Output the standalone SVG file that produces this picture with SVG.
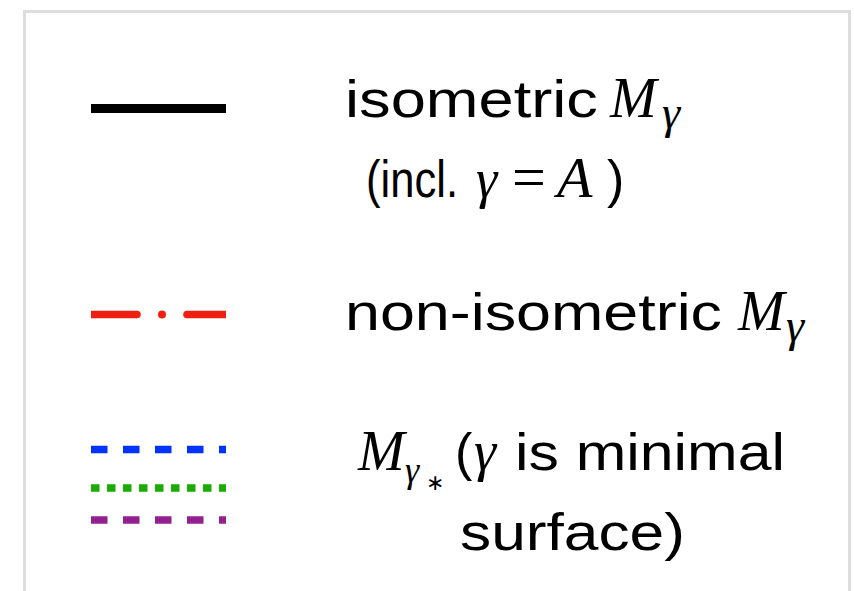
<svg xmlns="http://www.w3.org/2000/svg" width="854" height="591" viewBox="0 0 854 591">
<style>
.t{font-family:"Liberation Sans",Arial,sans-serif;font-size:52px;fill:#000}
.m{font-family:"Liberation Serif","Times New Roman",serif;font-style:italic;fill:#000}
.u{font-family:"Liberation Serif","Times New Roman",serif;fill:#000}
.ln{fill:none;stroke-width:7.6}
</style>
<rect x="24.5" y="11.5" width="825" height="600" fill="#fff" stroke="#dddddd" stroke-width="3"/>
<g id="connectors">
<line x1="91" y1="108.5" x2="226" y2="108.5" stroke="#000" stroke-width="9"/>
<g fill="#ee2011">
<line class="ln" x1="91" y1="314.5" x2="137" y2="314.5" stroke="#ee2011"/>
<circle cx="137" cy="314.5" r="3.8"/>
<circle cx="162" cy="314.5" r="4"/>
<circle cx="187" cy="314.5" r="3.8"/>
<line class="ln" x1="187" y1="314.5" x2="226" y2="314.5" stroke="#ee2011"/>
</g>
<line class="ln" x1="91" y1="449.5" x2="226" y2="449.5" stroke="#0033ff" stroke-dasharray="16.5 15.5"/>
<line class="ln" x1="91" y1="488" x2="226" y2="488" stroke="#1aad00" stroke-dasharray="8.5 7.5"/>
<line class="ln" x1="91" y1="520" x2="226" y2="520" stroke="#92208f" stroke-dasharray="16.5 15.5"/>
</g>
<g id="legend-isometric">
<text class="t" x="345" y="117" textLength="253" lengthAdjust="spacingAndGlyphs">isometric</text>
<text class="m" x="610" y="117" font-size="56">M</text>
<text class="m" x="662" y="128" font-size="46">γ</text>
<text class="t" x="366" y="197" textLength="92" lengthAdjust="spacingAndGlyphs">(incl.</text>
<text class="m" x="476" y="197" font-size="54">γ</text>
<text class="u" x="512" y="197" font-size="60">=</text>
<text class="m" x="557" y="197" font-size="58">A</text>
<text class="t" x="607" y="197">)</text>
</g>
<g id="legend-nonisometric">
<text class="t" x="345" y="330" textLength="377" lengthAdjust="spacingAndGlyphs">non-isometric</text>
<text class="m" x="738" y="330" font-size="56">M</text>
<text class="m" x="786" y="341" font-size="46">γ</text>
</g>
<g id="legend-minimal">
<text class="m" x="358" y="470" font-size="56">M</text>
<text class="m" x="405" y="482" font-size="36">γ</text>
<text class="u" x="426" y="490" font-size="22">∗</text>
<text class="t" x="455" y="470">(</text>
<text class="m" x="474" y="470" font-size="56">γ</text>
<text class="t" x="515" y="470" textLength="270" lengthAdjust="spacingAndGlyphs">is minimal</text>
<text class="t" x="460" y="550" textLength="225" lengthAdjust="spacingAndGlyphs">surface)</text>
</g>
</svg>
